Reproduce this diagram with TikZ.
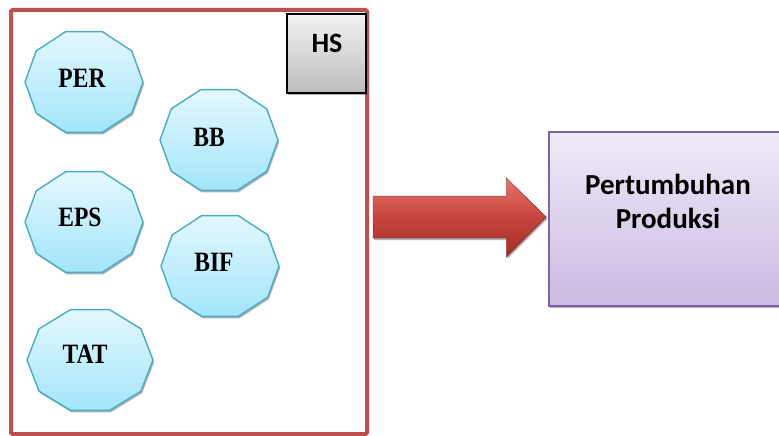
\documentclass[tikz,border=0pt]{standalone}
\usepackage{fontspec}
\setmainfont{Liberation Serif}
\newfontfamily\labelsans{Carlito}
\usetikzlibrary{shadows,calc}

\definecolor{frameRed}{HTML}{C0504D}
\definecolor{decaEdge}{HTML}{4BACC6}
\definecolor{decaTop}{HTML}{E4F8FE}
\definecolor{decaBot}{HTML}{A2E5F9}
\definecolor{boxEdge}{HTML}{8064A2}
\definecolor{boxTop}{HTML}{EFEAF7}
\definecolor{boxBot}{HTML}{CBBAE3}
\definecolor{arrTop}{HTML}{E4736E}
\definecolor{arrMid}{HTML}{C8443F}
\definecolor{arrBot}{HTML}{9E2C29}

\tikzset{
  softshadow/.style={drop shadow={shadow xshift=1.2pt,shadow yshift=-2pt,opacity=0.3,fill=black}},
  decagonfill/.style={draw=decaEdge,line width=1.4pt,top color=decaTop,bottom color=decaBot,
    line join=round,softshadow},
  decalabel/.style={font=\fontsize{28}{30}\selectfont\bfseries,inner sep=0pt},
  frame/.style={draw=frameRed,line width=4pt,fill=white,minimum width=356pt,minimum height=424pt,
    inner sep=0pt,rounded corners=1.5pt},
  hsbox/.style={draw=black,line width=1.5pt,top color=white!95!black,bottom color=white!74!black,
    minimum width=79pt,minimum height=79pt,inner sep=0pt,softshadow},
  sanslabel/.style={font=\labelsans\fontsize{29}{34}\selectfont\bfseries,inner sep=0pt,align=center},
  hslabelstyle/.style={font=\labelsans\fontsize{28}{30}\selectfont\bfseries,inner sep=0pt},
  prodbox/.style={draw=boxEdge,line width=1.5pt,top color=boxTop,bottom color=boxBot,
    minimum width=238pt,minimum height=174pt,inner sep=0pt,softshadow},
  bigarrow/.style={top color=arrTop,bottom color=arrBot,middle color=arrMid,
    draw=arrBot!80!black,line width=0.4pt,line join=miter,softshadow}
}

% decagon with flat top and bottom: centre, half width, node name, label, label offset
\newcommand{\decagon}[5]{%
  \path[decagonfill,shift={(#1)}]
    (0:#2pt and 53pt) -- (36:#2pt and 53pt) -- (72:#2pt and 53pt) -- (108:#2pt and 53pt)
    -- (144:#2pt and 53pt) -- (180:#2pt and 53pt) -- (216:#2pt and 53pt) -- (252:#2pt and 53pt)
    -- (288:#2pt and 53pt) -- (324:#2pt and 53pt) -- cycle;
  \node[decalabel] (#3) at ($(#1)+(#5)$) {\scalebox{0.84}[1]{#4}};%
}

\begin{document}
\begin{tikzpicture}[x=1pt,y=-1pt]
  \useasboundingbox (0,0) rectangle (779,436);

  % outer frame holding the variables
  \node[frame] (hsframe) at (189,222) {};

  % variable decagons
  \decagon{84,82}{59}{per}{PER}{-2,-4}
  \decagon{219,140}{59}{bb}{BB}{-10,-3}
  \decagon{84,222}{59}{eps}{EPS}{-4,-5}
  \decagon{220,266}{59}{bif}{BIF}{-6,-4}
  \decagon{90,360}{63}{tat}{TAT}{-5,-6}

  % HS tag in the corner
  \node[hsbox] (hs) at (326.5,53.5) {};
  \node[hslabelstyle] (hslabel) at (327,43) {HS};

  % result box, running off the right edge
  \node[prodbox] (prod) at (668,219) {};
  \node[sanslabel] (prodlabel) at (668,201) {Pertumbuhan\\Produksi};

  % block arrow from the frame to the result
  \coordinate (tail) at ([xshift=4pt,yshift=5pt]hsframe.east);
  \coordinate (tip) at ([xshift=-2pt,yshift=2pt]prod.west);
  \path[bigarrow] let \p1=(tail), \p2=(tip) in
    (\x1,\y1+21pt) -- (\x2-40pt,\y1+21pt) -- (\x2-40pt,\y1+39pt) -- (\x2,\y2)
    -- (\x2-40pt,\y1-40pt) -- (\x2-40pt,\y1-21pt) -- (\x1,\y1-21pt) -- cycle;
\end{tikzpicture}
\end{document}
